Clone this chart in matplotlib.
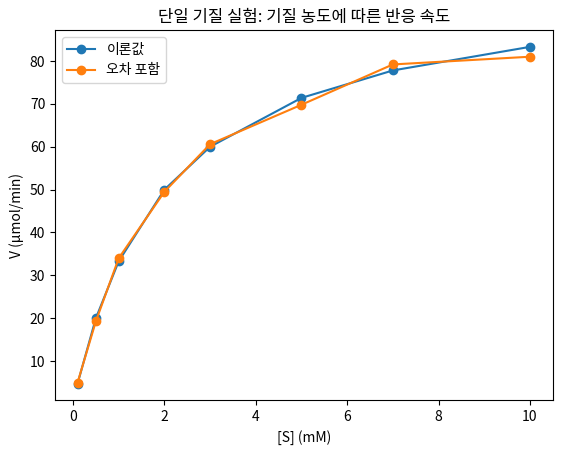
import matplotlib
matplotlib.use("Agg")
import matplotlib.pyplot as plt

plt.rcParams['font.family'] = ['Noto Sans CJK KR', 'DejaVu Sans']
plt.rcParams['axes.unicode_minus'] = False

S = [0.1, 0.5, 1, 2, 3, 5, 7, 10]
V_theory = [4.76, 20.0, 33.3, 50.0, 60.0, 71.4, 77.8, 83.3]
V_noisy = [5.0, 19.3, 34.0, 49.5, 60.6, 69.8, 79.2, 81.0]

fig, ax = plt.subplots(figsize=(5.61, 4.55), dpi=100)
ax.plot(S, V_theory, marker='o', label='이론값')
ax.plot(S, V_noisy, marker='o', label='오차 포함')
ax.set_xlabel('[S] (mM)')
ax.set_ylabel('V (μmol/min)')
ax.set_title('단일 기질 실험: 기질 농도에 따른 반응 속도')
ax.legend(loc='upper left')
fig.subplots_adjust(left=0.098, right=0.985, top=0.934, bottom=0.12)
fig.savefig('out.png')
